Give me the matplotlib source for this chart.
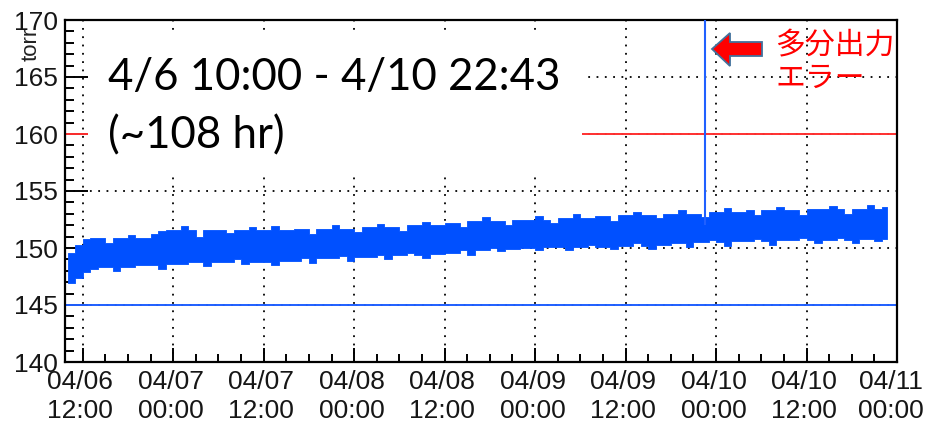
import numpy as np
import matplotlib.pyplot as plt
from matplotlib.patches import Rectangle, Polygon
from matplotlib.transforms import ScaledTranslation

# hours counted from 04/06 12:00 ; data runs 4/6 10:00 -> 4/10 22:43
hours = np.arange(-2, 107)
end_hour = 106.7

# upper / lower edge of the pressure trace, one value per hour (torr)
upper = [149.6, 150.3, 150.8, 150.9, 150.9, 150.4, 150.9, 150.9, 151.1, 150.9,
         150.9, 151.2, 151.5, 151.6, 151.6, 151.9, 151.6, 151.0, 151.6, 151.6,
         151.6, 151.3, 151.6, 151.6, 151.8, 151.6, 151.6, 151.9, 151.6, 151.6,
         151.7, 151.7, 151.2, 151.7, 151.7, 152.0, 151.7, 151.7, 151.4, 151.8,
         151.8, 152.1, 151.8, 151.8, 151.5, 152.0, 152.0, 152.3, 152.0, 152.0,
         152.2, 152.2, 151.8, 152.4, 152.4, 152.7, 152.4, 152.4, 152.0, 152.5,
         152.5, 152.5, 152.8, 152.5, 152.2, 152.6, 152.6, 153.0, 152.6, 152.6,
         152.8, 152.8, 152.4, 152.9, 152.9, 153.2, 152.9, 152.9, 152.6, 153.0,
         153.0, 153.3, 153.0, 153.0, 152.7, 153.2, 153.2, 153.5, 153.2, 153.2,
         153.3, 152.9, 153.3, 153.3, 153.6, 153.3, 153.3, 152.9, 153.4, 153.4,
         153.4, 153.7, 153.4, 153.0, 153.4, 153.4, 153.8, 153.4, 153.6]
lower = [146.9, 147.4, 147.9, 148.2, 148.3, 148.3, 148.0, 148.3, 148.3, 148.5,
         148.5, 148.5, 148.2, 148.6, 148.6, 148.6, 148.8, 148.8, 148.4, 148.8,
         148.8, 148.8, 149.0, 148.6, 148.8, 148.8, 148.8, 148.5, 148.9, 148.9,
         148.9, 149.1, 148.7, 149.1, 149.1, 149.1, 149.3, 148.9, 149.2, 149.2,
         149.2, 149.4, 149.0, 149.4, 149.4, 149.6, 149.4, 149.1, 149.5, 149.5,
         149.6, 149.6, 149.8, 149.4, 149.8, 149.8, 150.0, 149.7, 149.9, 149.9,
         150.0, 150.0, 149.8, 150.1, 150.1, 150.1, 149.8, 150.1, 150.1, 150.3,
         150.1, 150.1, 149.9, 150.2, 150.2, 150.4, 150.2, 149.9, 150.3, 150.3,
         150.4, 150.4, 150.1, 150.5, 150.5, 150.7, 150.5, 150.2, 150.6, 150.6,
         150.6, 150.8, 150.6, 150.3, 150.7, 150.7, 150.7, 150.9, 150.7, 150.4,
         150.7, 150.7, 150.9, 150.7, 150.4, 150.8, 150.8, 150.6, 150.8]

# output error spike (goes off scale)
spike_hour = 82.6
spike_base = 152.0
spike_top = 200.0

upper_limit = 160
lower_limit = 145

tick_hours = [0, 12, 24, 36, 48, 60, 72, 84, 96, 108]
tick_dates = ["04/06", "04/07", "04/07", "04/08", "04/08",
              "04/09", "04/09", "04/10", "04/10", "04/11"]
tick_times = ["12:00", "00:00", "12:00", "00:00", "12:00",
              "00:00", "12:00", "00:00", "12:00", "00:00"]

W, H = 927, 428
fig = plt.figure(figsize=(W / 100, H / 100), dpi=100)
ax = fig.add_axes([65 / W, 1 - 362 / H, 832 / W, 342 / H])

blue = "#0050ff"
x = np.append(hours, end_hour)
ax.fill_between(x, np.append(lower, lower[-1]), np.append(upper, upper[-1]),
                step="post", color=blue, lw=0.6, edgecolor=blue, zorder=3)
ax.vlines(spike_hour, spike_base, spike_top, color="#2060ff", lw=1.5, zorder=3)
ax.axhline(upper_limit, color="#ff3030", lw=1.4, zorder=2)
ax.axhline(lower_limit, color="#1f5fff", lw=1.4, zorder=2)

ax.set_xlim(-2.35, 108)
ax.set_ylim(140, 170)

# ROOT-like axes
tick_font = dict(family="Liberation Sans", size=19, color="#161616")
ax.set_xticks(tick_hours)
ax.set_xticklabels([d + "\n" + t for d, t in zip(tick_dates, tick_times)],
                   linespacing=1.25, **tick_font)
ax.set_xticks(np.arange(0, 108, 3), minor=True)
ax.set_yticks(np.arange(140, 171, 5))
ax.set_yticklabels([str(v) for v in range(140, 171, 5)], **tick_font)
ax.set_yticks(np.arange(140, 171, 1), minor=True)
ax.tick_params(axis="both", which="both", direction="in", width=1.4,
               top=False, right=False)
ax.tick_params(axis="x", which="major", length=10, pad=6)
ax.tick_params(axis="x", which="minor", length=5.5)
ax.tick_params(axis="y", which="major", length=16.5, pad=5)
ax.tick_params(axis="y", which="minor", length=6.5)
for s in ax.spines.values():
    s.set_linewidth(1.6)
ax.grid(True, which="major", color="black", lw=1.3, linestyle=(0, (1, 3.6)),
        zorder=1)
ax.set_axisbelow(True)

# labels sit a little left of their ticks, last one more so
labels = ax.get_xticklabels()
for i, lab in enumerate(labels):
    dx = -6 if i == len(labels) - 1 else -2.5
    lab.set_transform(lab.get_transform()
                      + ScaledTranslation(dx / 100, 0, fig.dpi_scale_trans))

fig.text(31 / W, 1 - 44 / H, "torr", rotation=90, ha="center", va="center",
         family="Liberation Sans", size=16, color="#222222")

# white note box
ax.add_patch(Rectangle((0.028, 0.556), 0.593, 0.4, transform=ax.transAxes,
                       facecolor="white", edgecolor="none", zorder=4))
fig.text(108 / W, 1 - 90 / H, "4/6 10:00 - 4/10 22:43", family="Lato",
         size=31.5, color="black", va="baseline", zorder=5)
fig.text(108 / W, 1 - 148 / H, "(~108 hr)", family="Lato",
         size=31.5, color="black", va="baseline", zorder=5)

# arrow pointing to the spike
arrow_px = [(712, 49), (730, 33), (730, 42), (762, 42), (762, 56),
            (730, 56), (730, 66)]
arrow = Polygon([(px / W, 1 - py / H) for px, py in arrow_px], closed=True,
                transform=fig.transFigure, facecolor="#ff0000",
                edgecolor="#41719c", lw=1.3, zorder=6)
fig.patches.append(arrow)

jp = dict(family=["Noto Sans CJK JP", "DejaVu Sans"], size=21.5,
          color="#ff0000", va="center", ha="left")
fig.text(775 / W, 1 - 46 / H, "多分出力", **jp)
fig.text(775 / W, 1 - 78 / H, "エラー", **jp)

fig.savefig("out.png", dpi=100)
